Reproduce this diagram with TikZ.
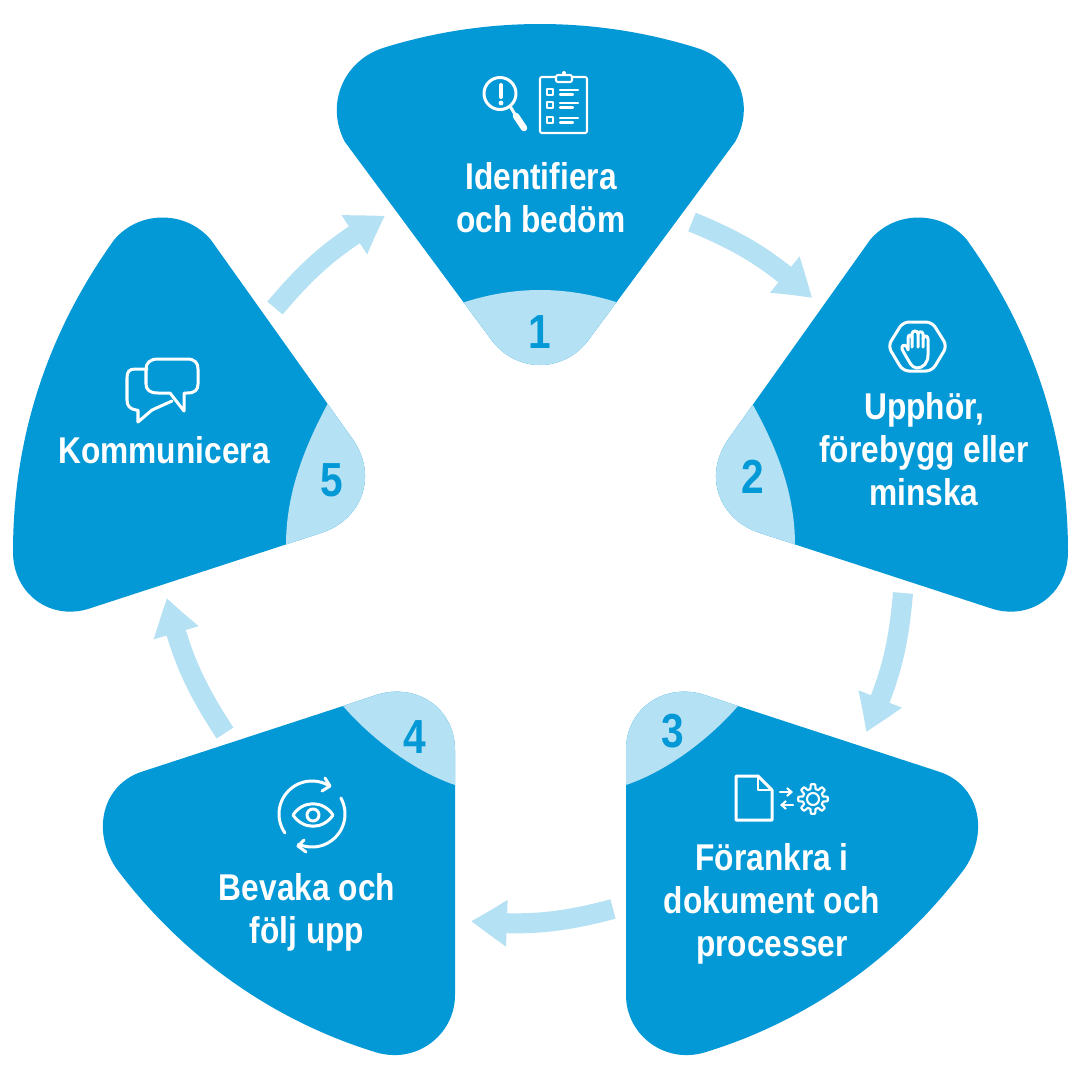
\documentclass[tikz,border=0pt]{standalone}
\usepackage{fontspec}
\setmainfont{Liberation Sans}[FakeStretch=0.85]
\usetikzlibrary{arrows.meta,bending}
\definecolor{bluemain}{HTML}{0398D6}
\definecolor{bluelight}{HTML}{B5E1F4}
\tikzset{x=0.01cm,y=-0.01cm,
 petal/.style={fill=bluemain,draw=none},
 tone/.style={fill=bluelight,draw=none},
 lbl/.style={text=white,font=\bfseries\fontsize{10.6}{12.3}\selectfont,align=center,inner sep=0pt},
 num/.style={text=bluemain,font=\bfseries\fontsize{13.6}{14}\selectfont,inner sep=0pt},
 flow/.style={draw=bluelight,line width=0.2cm,-{Triangle[length=0.36cm,width=0.44cm,flex=1,bend]}},
 ico/.style={draw=white,line width=0.03cm,fill=none,line cap=round,line join=round},
 icob/.style={draw=white,line width=0.021cm,fill=none,line cap=round,line join=round},
}
\def\pA{(383,48) .. controls (485,16) and (595,16) .. (697,48) .. controls (738,61) and (756,105) .. (735,142) -- (590,338) .. controls (565,374) and (515,374) .. (490,338) -- (345,142) .. controls (325,105) and (343,61) .. (383,48) -- cycle}
\def\pB{(870,240) .. controls (895,210) and (942,210) .. (967,240) .. controls (1035,335) and (1068,440) .. (1068,552) .. controls (1068,594) and (1030,622) .. (990,608) -- (760,533) .. controls (720,520) and (703,478) .. (727,441) -- cycle}
\def\pC{(738,706) -- (940,772) .. controls (978,785) and (990,830) .. (965,868) .. controls (900,955) and (810,1020) .. (706,1052) .. controls (665,1065) and (626,1035) .. (626,995) -- (626,750) .. controls (626,708) and (665,682) .. (705,695) -- cycle}
\def\pD{(343,706) -- (141,772) .. controls (103,785) and (91,830) .. (116,868) .. controls (181,955) and (271,1020) .. (375,1052) .. controls (416,1065) and (455,1035) .. (455,995) -- (455,750) .. controls (455,708) and (416,682) .. (376,695) -- cycle}
\def\pE{(211,240) .. controls (186,210) and (139,210) .. (114,240) .. controls (46,335) and (13,440) .. (13,552) .. controls (13,594) and (51,622) .. (91,608) -- (321,533) .. controls (361,520) and (378,478) .. (354,441) -- cycle}
\begin{document}
\begin{tikzpicture}
\useasboundingbox (0,0) rectangle (1081,1081);
\fill[white] (0,0) rectangle (1081,1081);
% petals
\fill[petal] \pA; \fill[petal] \pB; \fill[petal] \pC; \fill[petal] \pD; \fill[petal] \pE;
\begin{scope}\clip \pA; \fill[tone] (440,400) -- (440,310) -- (465,302) .. controls (515,286) and (565,286) .. (616,302) -- (640,310) -- (640,400) -- cycle;\end{scope}
\begin{scope}\clip \pB; \fill[tone] (700,400) -- (740,388) -- (753,405) .. controls (778,450) and (795,495) .. (795,545) -- (795,570) -- (700,570) -- cycle;\end{scope}
\begin{scope}\clip \pC; \fill[tone] (738,706) .. controls (712,736) and (670,770) .. (626,785) -- (600,800) -- (600,670) -- (760,670) -- cycle;\end{scope}
\begin{scope}\clip \pD; \fill[tone] (343,706) .. controls (369,736) and (411,770) .. (455,785) -- (480,800) -- (480,670) -- (320,670) -- cycle;\end{scope}
\begin{scope}\clip \pE; \fill[tone] (380,400) -- (340,388) -- (327,405) .. controls (303,450) and (286,495) .. (286,545) -- (286,570) -- (380,570) -- cycle;\end{scope}
% labels
\node[lbl] (t1) at (541,198) {Identifiera\\och bedöm};
\node[lbl] (t2) at (924,449) {Upphör,\\förebygg eller\\minska};
\node[lbl] (t3) at (772,904) {Förankra i\\dokument och\\processer};
\node[lbl] (t4) at (307,912) {Bevaka och\\följ upp};
\node[lbl] (t5) at (164,450) {Kommunicera};
\node[num] (n1) at (540,332) {1};
\node[num] (n2) at (753,477) {2};
\node[num] (n3) at (673,731) {3};
\node[num] (n4) at (415,737) {4};
\node[num] (n5) at (332,480) {5};
% connectors
\coordinate (a1) at (692,222); \coordinate (b1) at (812,298);
\coordinate (a2) at (903,593); \coordinate (b2) at (866,732);
\coordinate (a3) at (613,909); \coordinate (b3) at (471,921);
\coordinate (a4) at (225,733); \coordinate (b4) at (167,598);
\coordinate (a5) at (275,308); \coordinate (b5) at (385,216);
\draw[flow] (a1) to[bend left=10] (b1);
\draw[flow] (a2) to[bend left=10] (b2);
\draw[flow] (a3) to[bend left=10] (b3);
\draw[flow] (a4) to[bend left=10] (b4);
\draw[flow] (a5) to[bend left=10] (b5);
% icon 1
\draw[ico] (500,93.5) circle (16);
\draw[white,line width=0.04cm,line cap=round] (501,85) -- (501,97);
\fill[white] (501,103) circle (2.4);
\draw[white,line width=0.03cm] (510,106) -- (516,116);
\draw[white,line width=0.065cm,line cap=round] (516,116) -- (524,128);
\draw[icob,rounded corners=0.02cm] (556,77) -- (540,77) -- (540,133) -- (587,133) -- (587,77) -- (572,77);
\draw[icob,rounded corners=0.02cm] (556,82) -- (556,75) -- (572,75) -- (572,82) -- cycle;
\fill[white] (564,73) circle (2);
\foreach \yy in {92,105,120}{\draw[icob] (547,\yy-3) rectangle (553,\yy+3);
 \draw[icob] (560,\yy-2) -- (578,\yy-2); \draw[icob] (560,\yy+2.5) -- (573,\yy+2.5);}
% icon 2
\draw[ico,rounded corners=0.06cm] (888,346) -- (903,322) -- (932,322) -- (947,346) -- (932,371) -- (903,371) -- cycle;
\draw[ico] (910,363) .. controls (907,358) and (904,353) .. (902,349) .. controls (901,345) and (905,344) .. (907,347) -- (908,350) -- (908,338) .. controls (908,334) and (912,334) .. (912,338) -- (912,347);
\draw[ico] (912,338) -- (912,334) .. controls (912,330) and (918,330) .. (918,334) -- (918,347);
\draw[ico] (918,334) .. controls (918,331) and (923,331) .. (923,334) -- (923,347);
\draw[ico] (923,339) .. controls (923,335) and (928,335) .. (928,339) -- (928,355) .. controls (928,363) and (923,368) .. (917,368) .. controls (914,368) and (912,366) .. (910,363);
% icon 3
\draw[ico] (736,776) -- (758,776) -- (772,790) -- (772,820) -- (736,820) -- cycle;
\draw[icob] (758,776) -- (758,790) -- (772,790);
\draw[icob,-{Straight Barb[length=0.045cm,width=0.08cm]}] (780,792) -- (793,792);
\draw[icob,-{Straight Barb[length=0.045cm,width=0.08cm]}] (793,805) -- (780,805);
\draw[icob] (813,799) circle (6);
\draw[icob] plot[domain=0:360,samples=161,variable=\t] ({813+(12.5+2.3*max(-1,min(1,2.5*cos(8*\t))))*cos(\t)},{799+(12.5+2.3*max(-1,min(1,2.5*cos(8*\t))))*sin(\t)}) -- cycle;
% icon 4
\draw[ico] plot[domain=145:302,samples=40,variable=\t] ({312+33*cos(\t)},{814+33*sin(\t)});
\draw[ico] (325,778) -- (330,786) -- (322,791);
\draw[ico] plot[domain=331:474,samples=40,variable=\t] ({312+33*cos(\t)},{814+33*sin(\t)});
\draw[ico] (304,840) -- (298,846) -- (306,852);
\draw[ico] (293,815) .. controls (303,800) and (323,800) .. (333,815) .. controls (323,830) and (303,830) .. (293,815) -- cycle;
\draw[ico] (313,815) circle (6);
% icon 5
\draw[ico] (147,369) -- (135,369) .. controls (129,369) and (127,372) .. (127,378) -- (127,400) .. controls (127,406) and (130,409) .. (136,410) -- (138,410) -- (138,422) -- (152,410) -- (172,401);
\draw[ico] (158,359) -- (187,359) .. controls (195,359) and (198,363) .. (198,369) -- (198,384) .. controls (198,390) and (195,393) .. (187,393) -- (184,393) -- (184,411) -- (170,393) -- (158,393) .. controls (150,393) and (146,390) .. (146,384) -- (146,369) .. controls (146,363) and (150,359) .. (158,359) -- cycle;
\end{tikzpicture}
\end{document}
